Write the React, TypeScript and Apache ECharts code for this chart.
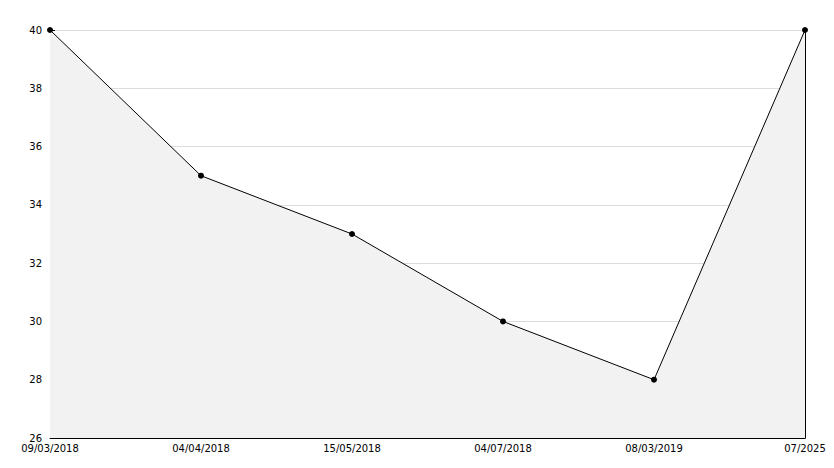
import React, { useEffect, useRef } from "react";
import * as echarts from "echarts";

const categories = ["09/03/2018", "04/04/2018", "15/05/2018", "04/07/2018", "08/03/2019", "07/2025"];
const values = [40, 35, 33, 30, 28, 40];
const yMin = 26;
const yMax = 40;
const yInterval = 2;

export default function App() {
  const ref = useRef<HTMLDivElement>(null);
  useEffect(() => {
    const chart = echarts.init(ref.current!, null, { renderer: "svg" });
    const font = { fontFamily: "DejaVu Sans", fontSize: 10, color: "#000" };
    chart.setOption({
      animation: false,
      backgroundColor: "#fff",
      grid: { left: 50, right: 29, top: 30, bottom: 30, containLabel: false },
      xAxis: {
        type: "category",
        data: categories,
        boundaryGap: false,
        axisLine: { lineStyle: { color: "#000", width: 1 } },
        axisTick: { inside: true, length: 5, lineStyle: { color: "#000" }, alignWithLabel: true },
        axisLabel: { ...font, margin: 5, interval: 0 },
        splitLine: { show: false },
      },
      yAxis: [
        {
          type: "value",
          min: yMin,
          max: yMax,
          interval: yInterval,
          axisLine: { show: true, lineStyle: { color: "#000", width: 1 } },
          axisTick: { show: true, inside: true, length: 5, lineStyle: { color: "#000" } },
          minorTick: { show: true, splitNumber: 2, length: 5, lineStyle: { color: "#000" } },
          axisLabel: { ...font, margin: 8 },
          splitLine: { show: true, lineStyle: { color: "#dcdcdc", width: 1 } },
        },
        {
          type: "value",
          position: "right",
          min: yMin,
          max: yMax,
          interval: yInterval,
          axisLine: { show: true, lineStyle: { color: "#000", width: 1 } },
          axisTick: { show: false },
          axisLabel: { show: false },
          splitLine: { show: false },
        },
      ],
      series: [
        {
          type: "line",
          data: values,
          yAxisIndex: 0,
          symbol: "circle",
          symbolSize: 6,
          itemStyle: { color: "#000" },
          lineStyle: { color: "#000", width: 1 },
          areaStyle: { color: "#f2f2f2", opacity: 1 },
        },
      ],
    });
    return () => chart.dispose();
  }, []);
  return <div ref={ref} style={{ width: 834, height: 468, position: "absolute", left: 0, top: 0 }} />;
}
